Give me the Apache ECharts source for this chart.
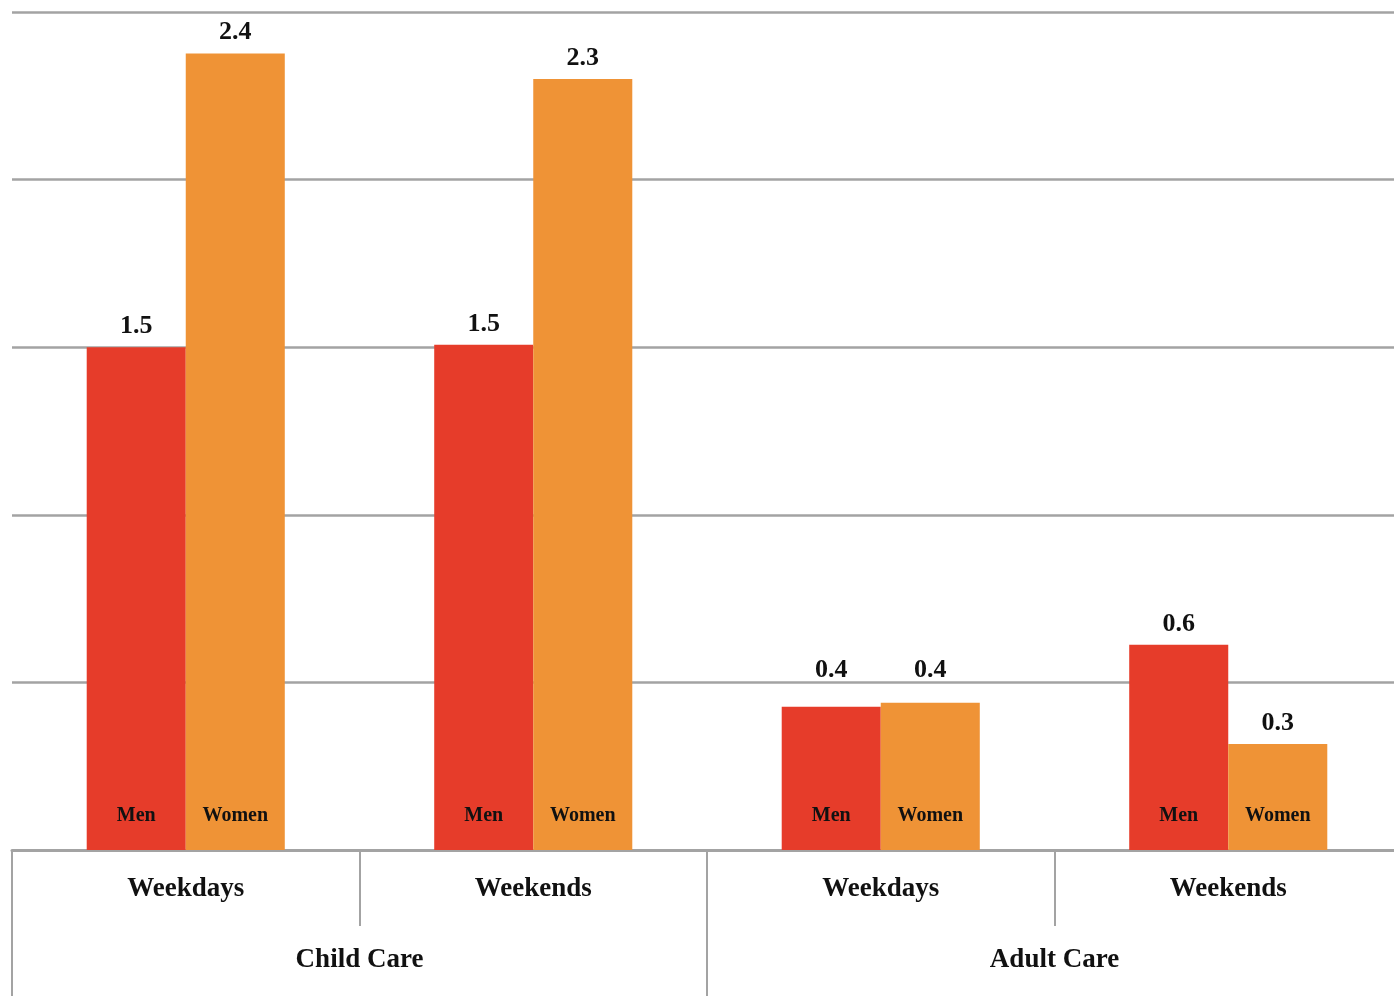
<!DOCTYPE html>
<html>
<head>
<meta charset="utf-8">
<script src="https://cdn.jsdelivr.net/npm/echarts@6/dist/echarts.min.js"></script>
<style>
  html, body { margin: 0; padding: 0; background: #fff; overflow: hidden; }
  #chart { width: 1402px; height: 996px; }
</style>
</head>
<body>
<div id="chart"></div>
<script>
// Average hours per day spent on care, by type of day
const careGroups = ['Child Care', 'Adult Care'];
const dayTypes = ['Weekdays', 'Weekends', 'Weekdays', 'Weekends'];
const menHours = [1.5, 1.507, 0.427, 0.612];
const womenHours = [2.376, 2.30, 0.439, 0.316];
const seriesNames = ['Men', 'Women'];
const yTicks = { min: 0, max: 2.5, interval: 0.5 };

const SERIF = '"Liberation Serif", "DejaVu Serif", serif';
const GRID_GRAY = '#a3a3a3';
const MEN_COLOR = '#e63c2a';
const WOMEN_COLOR = '#ef9336';

// Unique keys for the sub-category axis so repeated names stay separate
const dayKeys = dayTypes.map((d, i) => i + '|' + d);
const dayLabel = v => v.split('|')[1];

const barGeom = { barCategoryGap: '43%', barGap: '0%' };

const valueLabel = {
  show: true,
  position: 'top',
  distance: 8,
  fontFamily: SERIF,
  fontWeight: 'bold',
  fontSize: 26,
  color: '#111',
  formatter: p => p.value.toFixed(1)
};

// Value labels of the short adult-care weekday bars sit above the 0.5 gridline
const liftedLabels = { Men: { 2: 24 }, Women: { 2: 20 } };
const withLabelLift = (values, name) =>
  values.map((v, i) =>
    liftedLabels[name][i] != null
      ? { value: v, label: { distance: liftedLabels[name][i] } }
      : v
  );

const nameLabel = {
  show: true,
  position: 'insideBottom',
  distance: 24,
  fontFamily: SERIF,
  fontWeight: 'bold',
  fontSize: 20,
  color: '#111',
  formatter: p => p.seriesName
};

const chart = echarts.init(document.getElementById('chart'), null, { renderer: 'canvas' });

chart.setOption({
  animation: false,
  backgroundColor: '#ffffff',
  grid: { left: 12, right: 0, top: 12, bottom: 146, containLabel: false },
  xAxis: [
    {
      type: 'category',
      data: dayKeys,
      position: 'bottom',
      boundaryGap: true,
      axisLine: { show: true, lineStyle: { color: GRID_GRAY, width: 3 } },
      axisTick: { show: true, interval: 0, length: 76, lineStyle: { color: GRID_GRAY, width: 2 } },
      axisLabel: {
        interval: 0,
        margin: 26,
        fontFamily: SERIF,
        fontWeight: 'bold',
        fontSize: 27,
        color: '#111',
        formatter: dayLabel
      },
      splitLine: { show: false }
    },
    {
      type: 'category',
      data: careGroups,
      position: 'bottom',
      boundaryGap: true,
      axisLine: { show: false },
      axisTick: { show: true, interval: 0, length: 146, lineStyle: { color: GRID_GRAY, width: 2 } },
      axisLabel: {
        interval: 0,
        margin: 97,
        fontFamily: SERIF,
        fontWeight: 'bold',
        fontSize: 27,
        color: '#111'
      },
      splitLine: { show: false }
    },
    {
      // overlay axis carrying the in-bar series names
      type: 'category',
      data: dayKeys,
      position: 'bottom',
      show: false
    }
  ],
  yAxis: {
    type: 'value',
    min: yTicks.min,
    max: yTicks.max,
    interval: yTicks.interval,
    axisLine: { show: false },
    axisTick: { show: false },
    axisLabel: { show: false },
    splitLine: { show: true, lineStyle: { color: GRID_GRAY, width: 2.5 } }
  },
  series: [
    {
      name: seriesNames[0],
      type: 'bar',
      xAxisIndex: 0,
      data: withLabelLift(menHours, seriesNames[0]),
      itemStyle: { color: MEN_COLOR },
      label: valueLabel,
      z: 3,
      ...barGeom
    },
    {
      name: seriesNames[1],
      type: 'bar',
      xAxisIndex: 0,
      data: withLabelLift(womenHours, seriesNames[1]),
      itemStyle: { color: WOMEN_COLOR },
      label: valueLabel,
      z: 3,
      ...barGeom
    },
    {
      name: seriesNames[0],
      type: 'bar',
      xAxisIndex: 2,
      data: menHours,
      itemStyle: { color: 'rgba(0,0,0,0)' },
      label: nameLabel,
      silent: true,
      z: 4,
      ...barGeom
    },
    {
      name: seriesNames[1],
      type: 'bar',
      xAxisIndex: 2,
      data: womenHours,
      itemStyle: { color: 'rgba(0,0,0,0)' },
      label: nameLabel,
      silent: true,
      z: 4,
      ...barGeom
    }
  ]
});
</script>
</body>
</html>
